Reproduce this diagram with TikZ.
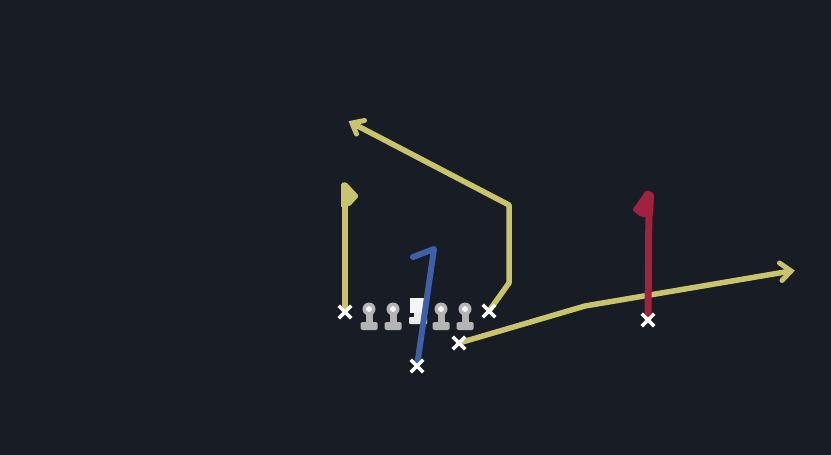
\documentclass[tikz,border=0pt]{standalone}
\usetikzlibrary{calc,shapes.misc}
\definecolor{bg}{HTML}{181C25}
\definecolor{routey}{HTML}{C9C46C}
\definecolor{routeb}{HTML}{3F5FA6}
\definecolor{router}{HTML}{A2213F}
\definecolor{olgrey}{HTML}{B4B4B4}
\tikzset{
  xmark/.style={cross out,draw=white,line width=3.4pt,minimum size=9pt,inner sep=0pt},
  yroute/.style={draw=routey,line width=5.5pt,line join=round},
  headarm/.style={draw=routey,line width=5pt,line join=miter,line cap=round},
  broute/.style={draw=routeb,line width=6pt,line join=round,line cap=round},
  rroute/.style={draw=router,line width=7pt,line join=round},
  pics/lineman/.style={code={
    \fill[olgrey] (-3.5,-2) rectangle (3.5,13);
    \fill[olgrey,rounded corners=1.5pt] (-8.5,12) rectangle (8.5,20);
    \fill[olgrey] (0,-1) circle (6.5);
    \fill[white!85!olgrey] (0,-1) circle (3);
  }},
  pics/center/.style={code={
    \fill[white!92!gray] (-8,-12) rectangle (8,3);
    \fill[white!85!gray] (-4,2) rectangle (4,8);
    \fill[white!85!gray,rounded corners=1pt] (-9,7) rectangle (9,14);
  }}
}
\begin{document}
\begin{tikzpicture}[x=1pt,y=-1pt]
\fill[bg] (0,0) rectangle (831,455);
\useasboundingbox (0,0) rectangle (831,455);

% players
\node[xmark] (le) at (345,312) {};
\node[xmark] (rt) at (489,311) {};
\node[xmark] (sl) at (459,343) {};
\node[xmark] (qb) at (417,366) {};
\node[xmark] (wr) at (648,320) {};

% route turning points
\coordinate (leTop) at (345,192);
\coordinate (rtA) at (509,283);
\coordinate (rtB) at (509,205);
\coordinate (rtEnd) at (352,123);
\coordinate (slA) at (585,306);
\coordinate (slEnd) at (791,271);
\coordinate (bTop) at (434,249);
\coordinate (bHook) at (413,257);
\coordinate (rTop) at (649,200);

% yellow routes
\draw[yroute] (le.center) -- (leTop);
\fill[routey,rounded corners=1.5pt] (341,183) -- (346,182) -- (359,196) -- (350,206) -- (341,208) -- cycle;
\draw[yroute] (rt.center) -- (rtA) -- (rtB) -- (rtEnd);
\draw[headarm] ($(rtEnd)+(12.5,-2.5)$) -- (rtEnd) -- ($(rtEnd)+(4.5,11)$);
\draw[yroute] (sl.center) -- (slA) -- (slEnd);
\draw[headarm] ($(slEnd)+(-11.5,-8)$) -- (slEnd) -- ($(slEnd)+(-9,9.5)$);

% red route
\draw[rroute] (wr.center) -- (rTop);
\fill[router,rounded corners=2pt] (646,190) -- (654,193) -- (653,217) -- (641,217) -- (632,210) -- (638,202) -- cycle;

% offensive line
\pic at (369,310) {lineman};
\pic at (393,310) {lineman};
\pic at (441,310) {lineman};
\pic at (465,310) {lineman};
\pic at (418,310) {center};

% blue route
\draw[broute] (qb.center) -- (bTop) -- (bHook);

% redraw markers on top
\node[xmark] at (le) {};
\node[xmark] at (rt) {};
\node[xmark] at (sl) {};
\node[xmark] at (qb) {};
\node[xmark] at (wr) {};
\end{tikzpicture}
\end{document}
